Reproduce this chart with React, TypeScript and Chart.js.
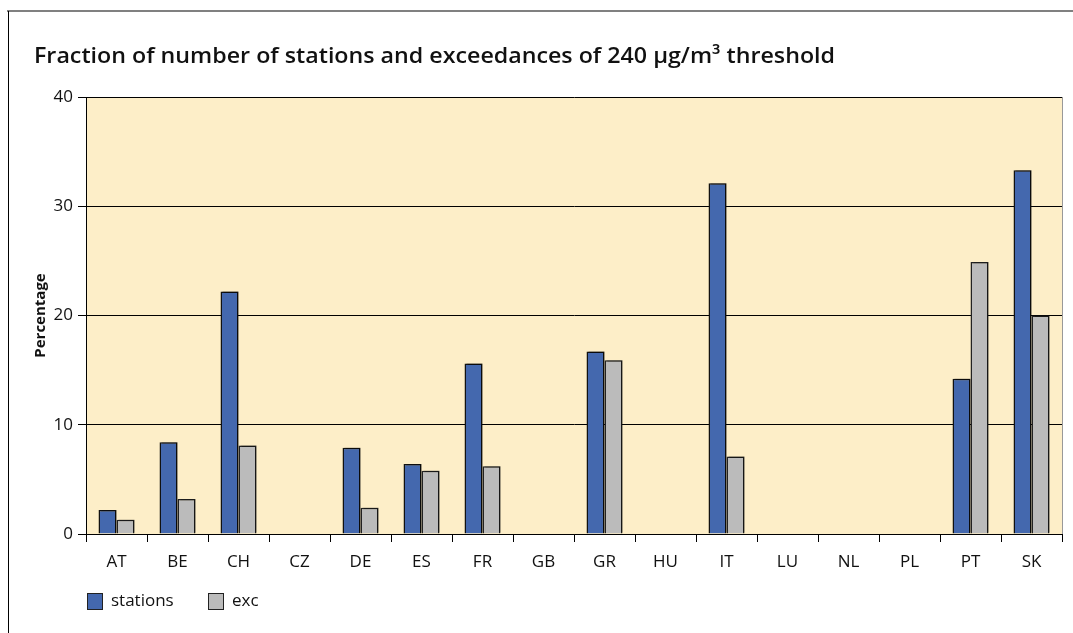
import React, { useEffect, useRef } from "react";
import { Chart, registerables } from "chart.js";

Chart.register(...registerables);

const categories = ["AT", "BE", "CH", "CZ", "DE", "ES", "FR", "GB", "GR", "HU", "IT", "LU", "NL", "PL", "PT", "SK"];
const stations = [2.2, 8.4, 22.2, 0, 7.9, 6.4, 15.6, 0, 16.7, 0, 32.1, 0, 0, 0, 14.2, 33.3];
const exc = [1.3, 3.2, 8.1, 0, 2.4, 5.8, 6.2, 0, 15.9, 0, 7.1, 0, 0, 0, 24.9, 20.0];
const yTicks = [0, 10, 20, 30, 40];
const titleText = "Fraction of number of stations and exceedances of 240 μg/m³ threshold";
const yTitle = "Percentage";

const BLUE = "#4468AE";
const GRAY = "#BBBBBB";
const FONT = "'Open Sans', sans-serif";

const decorPlugin = {
  id: "decor",
  beforeDraw(chart: any) {
    const { ctx, chartArea: a } = chart;
    ctx.save();
    ctx.fillStyle = "#FDEEC8";
    ctx.fillRect(a.left, a.top, a.right - a.left, a.bottom - a.top);
    ctx.restore();
  },
  beforeDatasetsDraw(chart: any) {
    const ctx = chart.ctx;
    ctx.save();
    ctx.shadowColor = "rgba(0,0,0,0.35)";
    ctx.shadowOffsetX = 2;
    ctx.shadowOffsetY = -1;
    ctx.shadowBlur = 0;
  },
  afterDatasetsDraw(chart: any) {
    chart.ctx.restore();
  },
  afterDraw(chart: any) {
    const { ctx, chartArea: a } = chart;
    ctx.save();
    ctx.strokeStyle = "#808080";
    ctx.lineWidth = 2;
    ctx.beginPath();
    ctx.moveTo(7, 11);
    ctx.lineTo(1073, 11);
    ctx.stroke();
    ctx.strokeStyle = "#000";
    ctx.lineWidth = 1;
    ctx.beginPath();
    ctx.moveTo(8.5, 11);
    ctx.lineTo(8.5, 633);
    ctx.stroke();
    ctx.strokeStyle = "#999";
    ctx.beginPath();
    ctx.moveTo(a.right + 0.5, a.top);
    ctx.lineTo(a.right + 0.5, a.bottom);
    ctx.stroke();
    ctx.fillStyle = "#111";
    ctx.font = "600 22px " + FONT;
    ctx.textBaseline = "middle";
    ctx.textAlign = "left";
    const tw = ctx.measureText(titleText).width;
    const target = 801;
    ctx.save();
    ctx.translate(34, 57);
    ctx.scale(target / tw, 1);
    ctx.fillText(titleText, 0, 0);
    ctx.restore();
    const items = chart.data.datasets.map((d: any, i: number) => ({
      label: d.label,
      color: d.backgroundColor,
      x: i === 0 ? 87 : 208,
    }));
    ctx.font = "17px " + FONT;
    items.forEach((it: any) => {
      ctx.fillStyle = it.color;
      ctx.fillRect(it.x, 593, 15, 16);
      ctx.strokeStyle = "#222";
      ctx.lineWidth = 1;
      ctx.strokeRect(it.x + 0.5, 593.5, 15, 16);
      ctx.fillStyle = "#111";
      ctx.textBaseline = "middle";
      ctx.fillText(it.label, it.x + 24, 601);
    });
    ctx.restore();
  },
};

export default function App() {
  const ref = useRef<HTMLCanvasElement | null>(null);
  useEffect(() => {
    document.body.style.margin = "0";
    const canvas = ref.current!;
    const chart = new Chart(canvas, {
      type: "bar",
      data: {
        labels: categories,
        datasets: [
          { label: "stations", data: stations, backgroundColor: BLUE, borderColor: "#111", borderWidth: 1.5, borderSkipped: "bottom" },
          { label: "exc", data: exc, backgroundColor: GRAY, borderColor: "#222", borderWidth: 1.5, borderSkipped: "bottom" },
        ],
      },
      options: {
        responsive: false,
        animation: false,
        devicePixelRatio: 1,
        layout: { padding: { left: 0, top: 97, right: 11, bottom: 59 } },
        plugins: { legend: { display: false }, title: { display: false }, tooltip: { enabled: false } },
        datasets: { bar: { categoryPercentage: 0.59, barPercentage: 1.0 } },
        scales: {
          x: {
            afterFit: (s: any) => { s.height = 40; },
            grid: { display: true, drawOnChartArea: false, color: "#000", tickLength: 8, offset: true },
            border: { display: true, color: "#000", width: 1 },
            ticks: { color: "#111", font: { family: FONT, size: 17 }, padding: 10, maxRotation: 0 },
          },
          y: {
            min: 0,
            max: 40,
            afterFit: (s: any) => { s.width = 86; },
            afterBuildTicks: (s: any) => { s.ticks = yTicks.map((v) => ({ value: v })); },
            grid: { color: "#000", tickLength: 8, lineWidth: 1 },
            border: { display: true, color: "#000", width: 1 },
            ticks: { color: "#111", font: { family: FONT, size: 17 }, padding: 5 },
            title: { display: true, text: yTitle, color: "#111", font: { family: FONT, size: 15, weight: "bold" }, padding: { top: 32, bottom: 0 } },
          },
        },
      },
      plugins: [decorPlugin],
    });
    return () => chart.destroy();
  }, []);
  return <canvas ref={ref} width={1073} height={633} style={{ display: "block", width: 1073, height: 633 }} />;
}
